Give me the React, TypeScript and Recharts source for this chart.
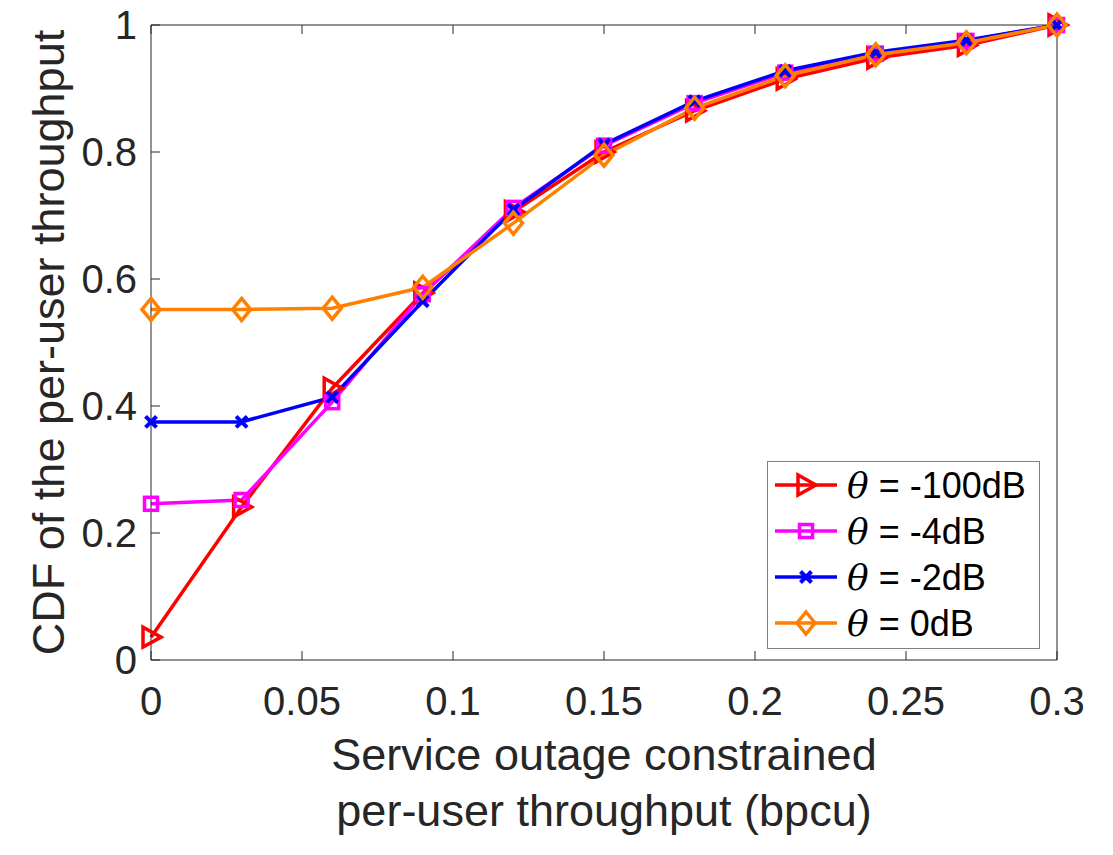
import React from 'react';
import { LineChart, Line, XAxis, YAxis, Legend } from 'recharts';

// per-user throughput grid (bpcu) and the CDF for each theta
const throughput = [0, 0.03, 0.06, 0.09, 0.12, 0.15, 0.18, 0.21, 0.24, 0.27, 0.3];
const cdfMinus100 = [0.036, 0.241, 0.428, 0.578, 0.706, 0.8, 0.865, 0.915, 0.948, 0.968, 1.0];
const cdfMinus4 = [0.246, 0.252, 0.406, 0.576, 0.712, 0.81, 0.877, 0.925, 0.955, 0.975, 1.0];
const cdfMinus2 = [0.375, 0.375, 0.414, 0.565, 0.709, 0.812, 0.88, 0.928, 0.957, 0.976, 1.0];
const cdf0 = [0.552, 0.552, 0.554, 0.587, 0.688, 0.795, 0.869, 0.92, 0.953, 0.972, 1.0];

const xTicks = [0, 0.05, 0.1, 0.15, 0.2, 0.25, 0.3];
const yTicks = [0, 0.2, 0.4, 0.6, 0.8, 1];
const thetaLabels = ['-100dB', '-4dB', '-2dB', '0dB'];

const data = throughput.map((x, i) => ({
  x,
  m100: cdfMinus100[i],
  m4: cdfMinus4[i],
  m2: cdfMinus2[i],
  z0: cdf0[i],
}));

const AXIS = '#262626';
const SANS = '"Liberation Sans", Arial, Helvetica, sans-serif';
const LW = 3.5;

type Kind = 'tri' | 'square' | 'cross' | 'diamond';

const series: { key: string; color: string; kind: Kind }[] = [
  { key: 'm100', color: '#ff0000', kind: 'tri' },
  { key: 'm4', color: '#ff00ff', kind: 'square' },
  { key: 'm2', color: '#0000ff', kind: 'cross' },
  { key: 'z0', color: '#ff8000', kind: 'diamond' },
];

// marker shapes, centred on (cx, cy)
const Marker = ({ cx, cy, color, kind }: { cx: number; cy: number; color: string; kind: Kind }) => {
  const common = { fill: 'none', stroke: color, strokeWidth: LW, strokeLinejoin: 'miter' as const };
  if (kind === 'tri') {
    return <polygon points={`${cx + 10},${cy} ${cx - 8},${cy - 10} ${cx - 8},${cy + 10}`} {...common} />;
  }
  if (kind === 'square') {
    return <rect x={cx - 6.5} y={cy - 6.5} width={13} height={13} {...common} />;
  }
  if (kind === 'cross') {
    return (
      <g stroke={color} strokeWidth={LW + 0.5}>
        <line x1={cx - 5.5} y1={cy - 5.5} x2={cx + 5.5} y2={cy + 5.5} />
        <line x1={cx - 5.5} y1={cy + 5.5} x2={cx + 5.5} y2={cy - 5.5} />
      </g>
    );
  }
  return <polygon points={`${cx},${cy - 11} ${cx + 9},${cy} ${cx},${cy + 11} ${cx - 9},${cy}`} {...common} />;
};

const makeDot = (color: string, kind: Kind) => (props: any) => {
  const { cx, cy, index } = props;
  if (cx == null || cy == null) return <g key={`d-${index}`} />;
  return <Marker key={`d-${kind}-${index}`} cx={cx} cy={cy} color={color} kind={kind} />;
};

const LegendBox = () => (
  <svg width={273} height={188} style={{ display: 'block' }}>
    <rect x={0.5} y={0.5} width={272} height={187} fill="#fff" stroke="#808080" strokeWidth={1} />
    {series.map((s, i) => {
      const cy = 24 + i * 46;
      return (
        <g key={s.key}>
          <line x1={8} y1={cy} x2={70} y2={cy} stroke={s.color} strokeWidth={LW} />
          <Marker cx={39} cy={cy} color={s.color} kind={s.kind} />
          <text x={80} y={cy + 13} fontSize={36} fill="#000" fontFamily={SANS}>
            <tspan fontFamily='"DejaVu Serif", "Liberation Serif", serif' fontStyle="italic">θ</tspan>
            <tspan> = {thetaLabels[i]}</tspan>
          </text>
        </g>
      );
    })}
  </svg>
);

const XLabel = (props: any) => {
  const vb = props.viewBox || {};
  const cx = vb.x + vb.width / 2;
  return (
    <text textAnchor="middle" fontSize={45} fill={AXIS} fontFamily={SANS}>
      <tspan x={cx} y={vb.y + 110}>Service outage constrained</tspan>
      <tspan x={cx} y={vb.y + 166}>per-user throughput (bpcu)</tspan>
    </text>
  );
};

const YLabel = (props: any) => {
  const vb = props.viewBox || {};
  const cy = vb.y + vb.height / 2;
  return (
    <text
      x={64}
      y={cy}
      textAnchor="middle"
      fontSize={45}
      fill={AXIS}
      fontFamily={SANS}
      transform={`rotate(-90, 64, ${cy})`}
    >
      CDF of the per-user throughput
    </text>
  );
};

const tickStyle = { fill: AXIS, fontSize: 40, fontFamily: SANS };
const blank = () => '';

export default function App() {
  return (
    <div style={{ position: 'absolute', left: 0, top: 0, width: 1113, height: 855, background: '#fff' }}>
      <LineChart
        width={1113}
        height={855}
        data={data}
        margin={{ top: 24, right: 55, bottom: 194, left: 150 }}
      >
        <XAxis
          dataKey="x"
          type="number"
          domain={[0, 0.3]}
          ticks={xTicks}
          height={1}
          stroke={AXIS}
          tick={tickStyle}
          tickSize={-9}
          tickMargin={36}
          label={<XLabel />}
        />
        <XAxis
          xAxisId="top"
          orientation="top"
          dataKey="x"
          type="number"
          domain={[0, 0.3]}
          ticks={xTicks}
          height={1}
          stroke={AXIS}
          tick={tickStyle}
          tickSize={-9}
          tickFormatter={blank}
        />
        <YAxis
          type="number"
          domain={[0, 1]}
          ticks={yTicks}
          width={1}
          stroke={AXIS}
          tick={tickStyle}
          tickSize={-9}
          tickMargin={23}
          label={<YLabel />}
        />
        <YAxis
          yAxisId="right"
          orientation="right"
          type="number"
          domain={[0, 1]}
          ticks={yTicks}
          width={1}
          stroke={AXIS}
          tick={tickStyle}
          tickSize={-9}
          tickFormatter={blank}
        />
        <Legend
          layout="horizontal"
          align="center"
          verticalAlign="middle"
          content={<LegendBox />}
          wrapperStyle={{ position: 'absolute', left: 767, top: 461, width: 273, height: 188 }}
        />
        {series.map((s, i) => (
          <Line
            key={s.key}
            type="linear"
            dataKey={s.key}
            name={`θ = ${thetaLabels[i]}`}
            stroke={s.color}
            strokeWidth={LW}
            dot={makeDot(s.color, s.kind)}
            activeDot={false}
            isAnimationActive={false}
          />
        ))}
      </LineChart>
    </div>
  );
}
